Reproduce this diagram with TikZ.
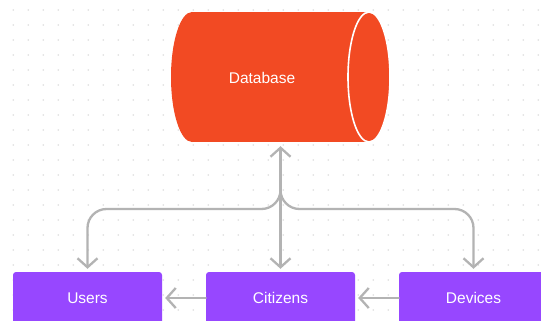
\documentclass[tikz,border=0pt]{standalone}
\usepackage{fontspec}
\setmainfont{Liberation Sans}
\usetikzlibrary{arrows.meta}
\definecolor{dbred}{HTML}{F24A23}
\definecolor{boxpurple}{HTML}{9747FF}
\definecolor{conngrey}{HTML}{B3B3B3}
\definecolor{dotgrey}{HTML}{DEDEDE}
\tikzset{
  entity/.style={fill=boxpurple, rounded corners=3pt, minimum width=149pt, minimum height=52pt,
    inner sep=0pt, text=white, font=\fontsize{15.5}{18}\selectfont},
  barb/.tip={Straight Barb[length=9pt,width=20pt,line width=2.3pt]},
  conn/.style={draw=conngrey, line width=2.3pt, -barb, line cap=round, line join=round},
  lbl/.style={text=white, font=\fontsize{15.5}{18}\selectfont, inner sep=0pt},
}
\begin{document}
\begin{tikzpicture}[x=1pt,y=-1pt]
\useasboundingbox (0,0) rectangle (541,321);
\clip (0,0) rectangle (541,321);
\fill[white] (0,0) rectangle (541,321);
\foreach \i in {0,...,35} \foreach \j in {0,...,21}
  \fill[dotgrey] (13.3+15*\i,10+15*\j) circle (0.9pt);
% database cylinder
\fill[dbred] (192,12) rectangle (369,142);
\fill[dbred] (192,77) ellipse [x radius=21pt, y radius=65pt];
\fill[dbred] (369,77) ellipse [x radius=21pt, y radius=65pt];
\draw[white, line width=1.6pt] (369,77) ellipse [x radius=21pt, y radius=65pt];
\node[inner sep=0pt, minimum width=219pt, minimum height=130pt] (db) at (280.5,77) {};
\node[lbl] (dblabel) at (262,78) {Database};
% entities
\node[entity] (users) at (87.5,298) {Users};
\node[entity] (cit) at (280.5,298) {Citizens};
\node[entity] (dev) at (473.5,298) {Devices};
% connectors
\coordinate (j) at (280.5,190);
\coordinate (h) at (0,209);
\draw[conn, barb-barb, shorten <=3pt, shorten >=4pt] (cit.north) -- (db.south);
\draw[conn, rounded corners=19pt, shorten >=3pt] (j) |- (users.north |- h) -- (users.north);
\draw[conn, rounded corners=19pt, shorten >=3pt] (j) |- (dev.north |- h) -- (dev.north);
\draw[conn, shorten >=3pt] (cit.west) -- (users.east);
\draw[conn, shorten >=3pt] (dev.west) -- (cit.east);
\end{tikzpicture}
\end{document}
